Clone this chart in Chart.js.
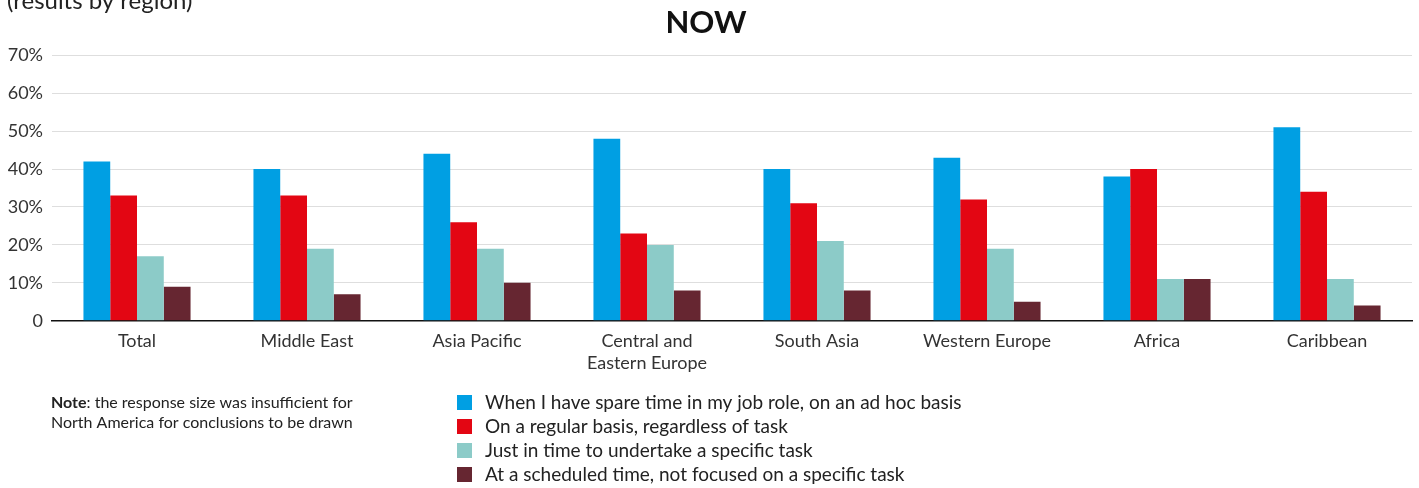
<!DOCTYPE html>
<html>
<head>
<meta charset="utf-8">
<title>Now - results by region</title>
<script src="https://cdn.jsdelivr.net/npm/chart.js@4/dist/chart.umd.min.js"></script>
<style>
    html, body { margin: 0; padding: 0; background: #fff; }
    #wrap { position: relative; width: 1419px; height: 488px; }
</style>
</head>
<body>
<div id="wrap"><canvas id="nowChart" width="1419" height="488"></canvas></div>
<script>
// Regions and answer shares (percent)
const regions = ['Total', 'Middle East', 'Asia Pacific', ['Central and', 'Eastern Europe'],
    'South Asia', 'Western Europe', 'Africa', 'Caribbean'];
const seriesNames = [
    'When I have spare time in my job role, on an ad hoc basis',
    'On a regular basis, regardless of task',
    'Just in time to undertake a specific task',
    'At a scheduled time, not focused on a specific task'
];
const spareTime = [42, 40, 44, 48, 40, 43, 38, 51];
const regularBasis = [33, 33, 26, 23, 31, 32, 40, 34];
const justInTime = [17, 19, 19, 20, 21, 19, 11, 11];
const scheduled = [9, 7, 10, 8, 8, 5, 11, 4];
const yTicks = [0, 10, 20, 30, 40, 50, 60, 70];

const seriesColors = ['#009fe3', '#e30613', '#8ccbc8', '#662631'];
const FONT = 'Lato, "Open Sans", sans-serif';

// Header text, footnote and the legend column under the axis
const notesPlugin = {
    id: 'notes',
    afterDraw(chart) {
        const ctx = chart.ctx;
        ctx.save();
        ctx.fillStyle = '#222';
        ctx.textBaseline = 'alphabetic';
        ctx.textAlign = 'left';
        ctx.font = '24px ' + FONT;
        ctx.fillText('(results by region)', 7, 9);

        // footnote
        ctx.font = 'bold 16px ' + FONT;
        ctx.fillText('Note', 51, 408);
        const w = ctx.measureText('Note').width;
        ctx.font = '16px ' + FONT;
        ctx.fillText(': the response size was insufficient for', 51 + w, 408);
        ctx.fillText('North America for conclusions to be drawn', 51, 428);

        // legend
        ctx.font = '19px ' + FONT;
        ctx.textBaseline = 'middle';
        chart.data.datasets.forEach((ds, i) => {
            const y = 403 + i * 24;
            ctx.fillStyle = ds.backgroundColor;
            ctx.fillRect(457, y - 8, 15, 15);
            ctx.fillStyle = '#222';
            ctx.fillText(ds.label, 485, y);
        });
        ctx.restore();
    }
};

const values = [spareTime, regularBasis, justInTime, scheduled];

new Chart(document.getElementById('nowChart'), {
    type: 'bar',
    data: {
        labels: regions,
        datasets: values.map((d, i) => ({
            label: seriesNames[i],
            data: d,
            backgroundColor: seriesColors[i],
            borderWidth: 0,
            categoryPercentage: 0.63,
            barPercentage: 1.0
        }))
    },
    options: {
        responsive: false,
        animation: false,
        layout: {
            padding: { left: 0, right: 7, top: 0, bottom: 104 }
        },
        plugins: {
            legend: { display: false },
            tooltip: { enabled: false },
            title: {
                display: true,
                text: 'NOW',
                color: '#111',
                font: { family: FONT, size: 31, weight: 'bold' },
                padding: { top: 4, bottom: 14 }
            }
        },
        scales: {
            x: {
                grid: { display: false, drawTicks: false },
                border: { display: true, color: '#111', width: 1.5 },
                ticks: {
                    color: '#333',
                    font: { family: FONT, size: 18 },
                    padding: 10,
                    maxRotation: 0,
                    autoSkip: false
                }
            },
            y: {
                min: 0,
                max: 70,
                afterFit(scale) { scale.width = 52; },
                afterBuildTicks(scale) { scale.ticks = yTicks.map(v => ({ value: v })); },
                grid: { color: '#dedede', lineWidth: 1, drawTicks: false },
                border: { display: false },
                ticks: {
                    color: '#333',
                    font: { family: FONT, size: 18 },
                    padding: 9,
                    callback: v => v === 0 ? '0' : v + '%'
                }
            }
        }
    },
    plugins: [notesPlugin]
});
</script>
</body>
</html>
